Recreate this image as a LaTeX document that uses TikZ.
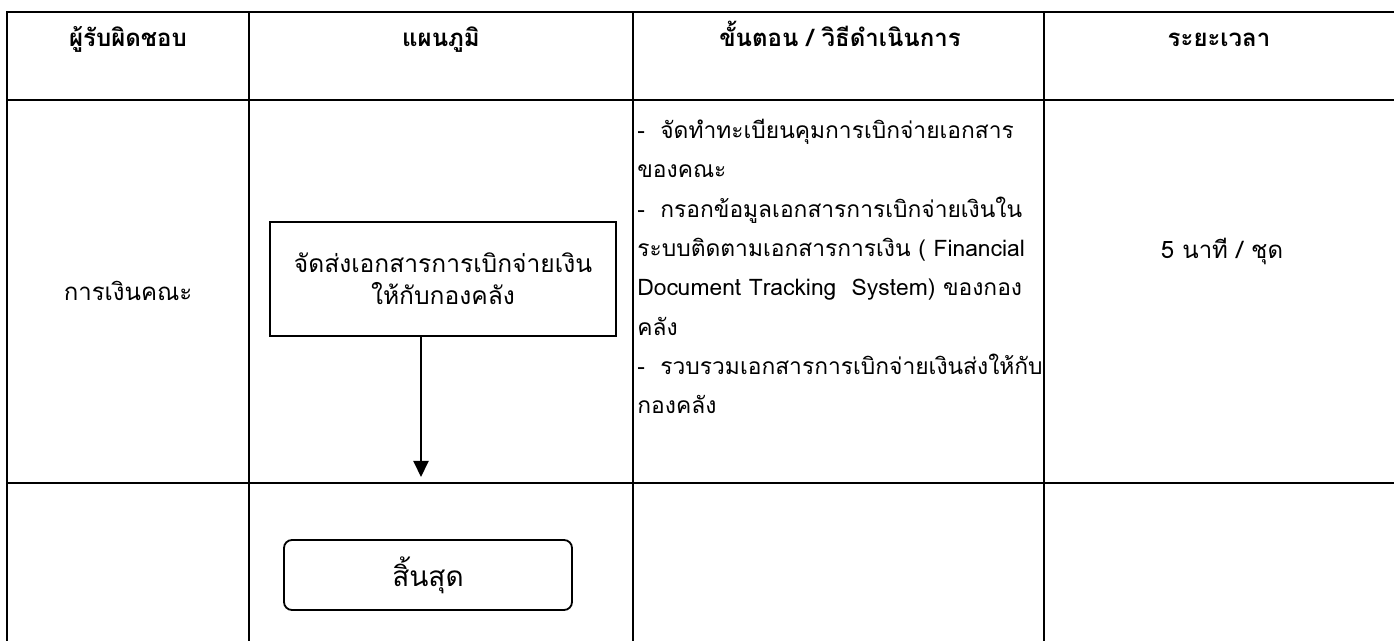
\documentclass[tikz,border=0pt]{standalone}
\usepackage{fontspec}
\setmainfont{Loma}[Script=Thai]
\usetikzlibrary{arrows.meta}
\begin{document}
\begin{tikzpicture}[x=0.5pt,y=-0.5pt,
  grid/.style={line width=1.2pt,line cap=rect},
  hdr/.style={font=\bfseries\fontsize{12}{14}\selectfont,inner sep=0pt,anchor=base},
  body/.style={font=\fontsize{12}{16}\selectfont,inner sep=0pt},
  line/.style={font=\fontsize{11.4}{16}\selectfont,inner sep=0pt,anchor=base west},
  procbox/.style={draw,line width=0.9pt,minimum width=173pt,minimum height=57pt,align=center,font=\fontsize{12.3}{16}\selectfont},
  endbox/.style={draw,line width=0.9pt,rounded corners=4pt,minimum width=144pt,minimum height=35pt,font=\fontsize{14}{16}\selectfont},
  flow/.style={line width=1pt,-{Triangle[length=8pt,width=7.5pt]}}]
\useasboundingbox (0,0) rectangle (1394,641);
% table grid
\draw[grid] (7,12) -- (1394,12);
\draw[grid] (7,100) -- (1394,100);
\draw[grid] (7,483) -- (1394,483);
\foreach \x in {7,249,633,1044} \draw[grid] (\x,12) -- (\x,641);
% header
\node[hdr] (h1) at (128,47) {ผู้รับผิดชอบ};
\node[hdr] (h2) at (441,47) {แผนภูมิ};
\node[hdr] (h3) at (840,47) {ขั้นตอน / วิธีดำเนินการ};
\node[hdr] (h4) at (1219,47) {ระยะเวลา};
% body row
\node[body,anchor=base] (who) at (128,301) {การเงินคณะ};
\node[procbox] (send) at (443,279) {จัดส่งเอกสารการเบิกจ่ายเงิน\\ให้กับกองคลัง};
\node[body,anchor=base] (time) at (1222,259) {5 นาที / ชุด};
\node[line] (l1) at (637,139) {\makebox[11.5pt][l]{-}จัดทำทะเบียนคุมการเบิกจ่ายเอกสาร};
\node[line] (l2) at (637,178) {ของคณะ};
\node[line] (l3) at (637,218) {\makebox[11.5pt][l]{-}กรอกข้อมูลเอกสารการเบิกจ่ายเงินใน};
\node[line] (l4) at (637,257) {ระบบติดตามเอกสารการเงิน ( Financial};
\node[line] (l5) at (637,296) {Document Tracking\ \ System) ของกอง};
\node[line] (l6) at (637,336) {คลัง};
\node[line] (l7) at (637,375) {\makebox[11.5pt][l]{-}รวบรวมเอกสารการเบิกจ่ายเงินส่งให้กับ};
\node[line] (l8) at (637,414) {กองคลัง};
% end row
\node[endbox] (end) at (428,575) {สิ้นสุด};
% connector
\coordinate (a0) at (421,336);
\coordinate (a1) at (421,477);
\draw[flow] (a0) -- (a1);
\end{tikzpicture}
\end{document}
